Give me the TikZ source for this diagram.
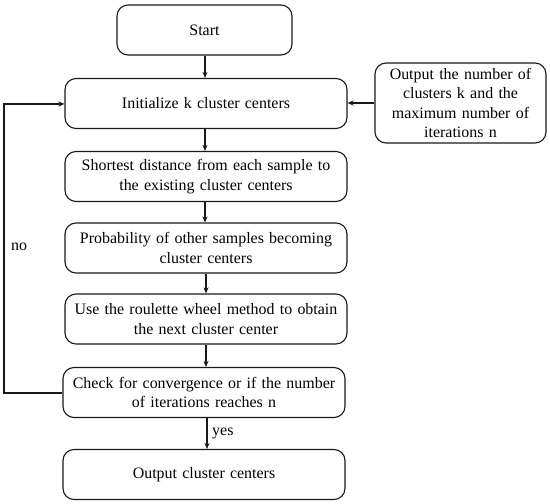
\documentclass[tikz,border=0pt]{standalone}
\usepackage{fontspec}
\setmainfont{Liberation Serif}
\usetikzlibrary{arrows.meta}
\newcommand\myboxfont{\fontsize{16}{19.5}\selectfont\spaceskip=0.33em plus 0.1em\relax}
\begin{document}
\begin{tikzpicture}[x=1bp,y=-1bp,
  box/.style={draw=black!90, line width=1.1bp, rounded corners=11bp, align=center,
    font=\myboxfont, inner sep=0pt, minimum width=282bp, minimum height=50bp},
  arr/.style={draw=black!90, line width=1.2bp, -{Stealth[length=6bp,width=5bp]}},
  lbl/.style={font=\fontsize{16}{19.5}\selectfont, inner sep=0pt}]
\useasboundingbox (0,0) rectangle (550,504);
\node[box, minimum width=175bp] (start) at (204.5,30) {Start};
\node[box] (init) at (206,103.5) {Initialize k cluster centers};
\node[box, minimum width=171bp, minimum height=80bp] (param) at (460.5,103) {Output the number of\\clusters k and the\\maximum number of\\iterations n};
\node[box] (dist) at (206,176.5) {Shortest distance from each sample to\\the existing cluster centers};
\node[box] (prob) at (206,248) {Probability of other samples becoming\\cluster centers};
\node[box] (roul) at (206,319) {Use the roulette wheel method to obtain\\the next cluster center};
\node[box] (check) at (204,392.5) {Check for convergence or if the number\\of iterations reaches n};
\node[box] (out) at (204,474.5) {Output cluster centers};
\coordinate (lb) at (4,393);
\coordinate (lt) at (4,104);
\draw[arr] (start.south -| 205,0) -- (init.north -| 205,0);
\draw[arr] (param.west) -- (init.east |- param.west);
\draw[arr] (init.south -| 205,0) -- (dist.north -| 205,0);
\draw[arr] (dist.south -| 205,0) -- (prob.north -| 205,0);
\draw[arr] (prob.south -| 206,0) -- (roul.north -| 206,0);
\draw[arr] (roul.south -| 206,0) -- (check.north -| 206,0);
\draw[arr] (check.south -| 207,0) -- (out.north -| 207,0);
\draw[arr] (check.west |- lb) -- (lb) -- (lt) -- (init.west |- lt);
\node[lbl, anchor=west] (no) at (11,247) {no};
\node[lbl, anchor=west] (yes) at (212,433) {yes};
\end{tikzpicture}
\end{document}
